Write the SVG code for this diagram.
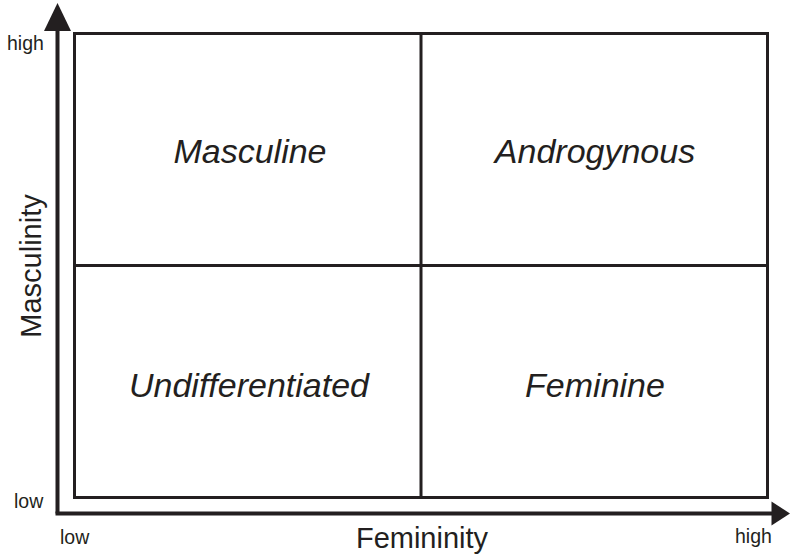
<svg xmlns="http://www.w3.org/2000/svg" width="790" height="555" viewBox="0 0 790 555">
<style>
.ln{stroke:#231f20;fill:none}
.t{font-family:"Liberation Sans",Arial,sans-serif;fill:#231f20}
.q{font-size:34px;font-style:italic;text-anchor:middle}
.s{font-size:19.5px}
.ax{font-size:29px;text-anchor:middle}
</style>
<rect width="790" height="555" fill="#fff"/>
<g id="connectors">
<line class="ln" x1="57.5" y1="513.5" x2="57.5" y2="28" stroke-width="4"/>
<polygon points="57.5,3 44,31 71,31" fill="#231f20"/>
<line class="ln" x1="55.5" y1="513.5" x2="774" y2="513.5" stroke-width="4"/>
<polygon points="790,513.5 771.5,501.5 771.5,525.5" fill="#231f20"/>
</g>
<g id="grid">
<rect class="ln" x="74.5" y="33.5" width="693" height="464" stroke-width="3"/>
<line class="ln" x1="421" y1="33.5" x2="421" y2="497.5" stroke-width="3"/>
<line class="ln" x1="74.5" y1="265.5" x2="767.5" y2="265.5" stroke-width="3"/>
</g>
<g id="masculine"><text class="t q" x="250" y="163">Masculine</text></g>
<g id="androgynous"><text class="t q" x="595" y="163">Androgynous</text></g>
<g id="undifferentiated"><text class="t q" x="249" y="397">Undifferentiated</text></g>
<g id="feminine"><text class="t q" x="595" y="397">Feminine</text></g>
<g id="labels">
<text class="t s" x="7" y="50">high</text>
<text class="t s" x="14" y="508">low</text>
<text class="t s" x="60" y="544">low</text>
<text class="t s" x="735" y="543">high</text>
<text class="t ax" x="422" y="548">Femininity</text>
<text class="t ax" transform="translate(41,266) rotate(-90)">Masculinity</text>
</g>
</svg>
